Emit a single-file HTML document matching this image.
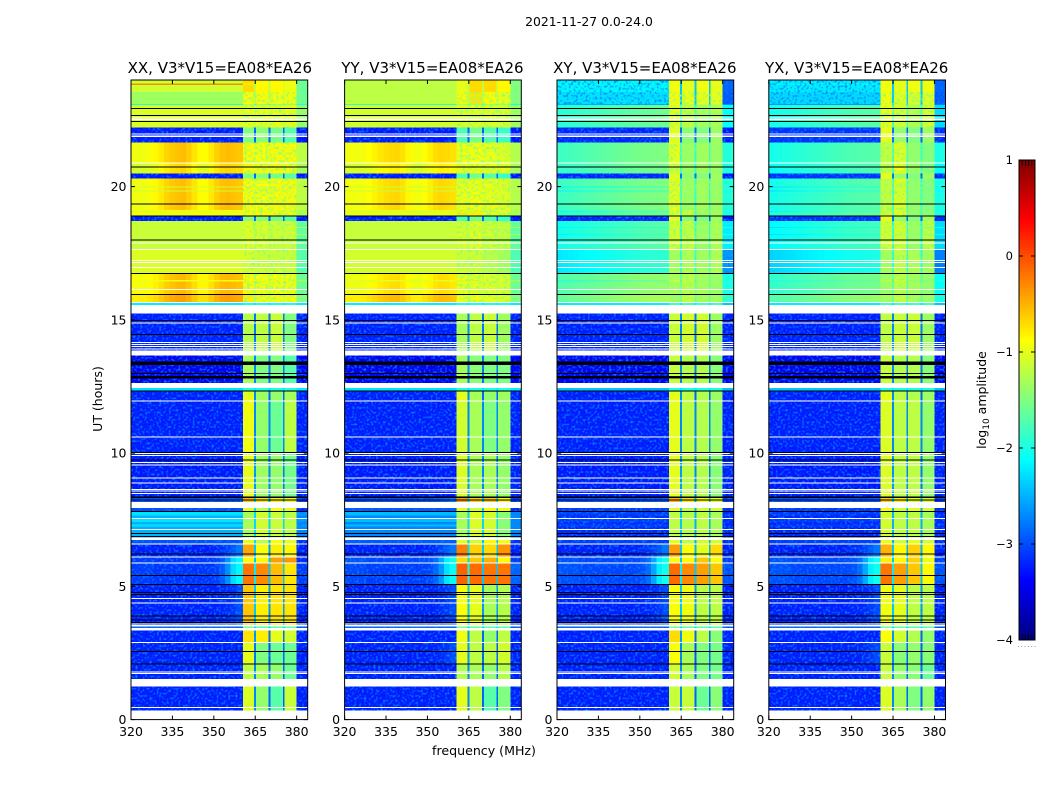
<!DOCTYPE html>
<html lang="en">
<head>
<meta charset="utf-8">
<title>2021-11-27 dynamic spectra</title>
<style>
html,body{margin:0;padding:0;background:#fff;}
#chart{display:block;width:1050px;height:800px;}
text{font-family:"DejaVu Sans","Liberation Sans",sans-serif;fill:#000;}
</style>
</head>
<body>
<svg id="chart" xmlns="http://www.w3.org/2000/svg" width="1050" height="800" viewBox="0 0 1050 800">
<defs>
<filter id="grain" filterUnits="userSpaceOnUse" x="0" y="0" width="1050" height="800" color-interpolation-filters="sRGB">
<feTurbulence type="fractalNoise" baseFrequency="0.42" numOctaves="1" seed="5" result="n"/>
<feColorMatrix in="n" type="matrix" values="0 0 0 0 0  0 0 0 0 0.5  0 0 0 0 1  3.4 0 0 0 -1.62" result="c"/>
<feComposite in="c" in2="SourceGraphic" operator="in" result="s"/>
<feMerge><feMergeNode in="SourceGraphic"/><feMergeNode in="s"/></feMerge>
</filter>
<filter id="mottle" filterUnits="userSpaceOnUse" x="0" y="0" width="1050" height="800" color-interpolation-filters="sRGB">
<feTurbulence type="fractalNoise" baseFrequency="0.38" numOctaves="1" seed="11" result="n"/>
<feColorMatrix in="n" type="matrix" values="0 0 0 0 0.55  0 0 0 0 1  0 0 0 0 0.45  3.4 0 0 0 -1.55" result="c"/>
<feComposite in="c" in2="SourceGraphic" operator="in" result="s"/>
<feMerge><feMergeNode in="SourceGraphic"/><feMergeNode in="s"/></feMerge>
</filter>
</defs>
<g id="root"></g>
</svg>
<script>
// ---- chart data ----
const figureTitle = "2021-11-27 0.0-24.0";
const panelNames = ["XX", "YY", "XY", "YX"];
const baselineLabel = "V3*V15=EA08*EA26";
const xTicks = [320, 335, 350, 365, 380];
const yTicks = [0, 5, 10, 15, 20];
const colorTicks = [1, 0, -1, -2, -3, -4];
const freqEdges = [320,322,324,326,328,330,332,334,336,338,340,342,344,346,348,350,352,354,356,358,360.5,364.6,365.3,369.8,370.5,375,375.6,380,384];
const offColumns = 20;
const lastUT = 24;

// time rows: [UT start hours, row class]; each row ends where the next begins
// class w = flagged/white, k = black
const rows = [
[0,"w"],[.338,"A"],[.443,"w"],[.48,"A"],[1.238,"w"],[1.519,"B0"],[1.706,"w"],[1.744,"B0"],[1.77,"w"],[1.808,"B0"],
[2.07,"k"],[2.108,"B1"],[2.543,"k"],[2.58,"B1"],[2.88,"w"],[2.918,"B2"],[3.338,"w"],[3.431,"C0"],[3.488,"w"],[3.544,"C"],
[3.566,"w"],[3.6,"C"],[3.619,"k"],[3.653,"C"],[3.731,"k"],[3.765,"C"],[3.87,"k"],[3.908,"C"],[4.358,"w"],[4.395,"C"],
[4.53,"w"],[4.568,"C"],[4.669,"k"],[4.706,"C"],[4.755,"k"],[4.793,"C"],[5.055,"k"],[5.093,"D"],[5.393,"k"],[5.43,"D"],
[5.858,"w"],[5.895,"E"],[6.083,"w"],[6.12,"F"],[6.195,"k"],[6.233,"F"],[6.57,"w"],[6.608,"G0"],[6.731,"w"],[6.825,"G"],
[6.844,"k"],[6.881,"G"],[6.968,"k"],[7.005,"G"],[7.118,"w"],[7.155,"G"],[7.25,"g"],[7.33,"G"],[7.42,"g"],[7.53,"w"],[7.568,"G"],[7.66,"g"],[7.781,"k"],[7.819,"G0"],
[7.931,"w"],[8.156,"Ho"],[8.213,"k"],[8.25,"Ho"],[8.318,"k"],[8.363,"H"],[8.456,"w"],[8.494,"H"],[8.558,"w"],[8.595,"H"],
[8.614,"w"],[8.651,"H"],[8.858,"w"],[8.895,"H"],[9.045,"w"],[9.083,"H"],[9.544,"w"],[9.581,"H"],[9.63,"w"],[9.668,"H"],
[9.72,"k"],[9.758,"H"],[9.893,"w"],[9.93,"H"],[9.968,"w"],[10.005,"k"],[10.05,"I"],[10.583,"w"],[10.62,"I"],[11.944,"w"],
[11.981,"J"],[12.308,"k"],[12.345,"J2"],[12.45,"w"],[12.638,"K"],[12.795,"k"],[12.893,"K"],[12.968,"k"],[13.005,"K"],[13.313,"k"],
[13.444,"K"],[13.658,"w"],[13.856,"L"],[13.883,"w"],[13.92,"L"],[13.98,"w"],[14.018,"L"],[14.055,"w"],[14.093,"L"],[14.13,"w"],
[14.168,"L"],[14.438,"k"],[14.475,"L"],[14.858,"w"],[14.895,"L"],[14.955,"k"],[14.993,"L"],[15.244,"w"],[15.563,"M"],[15.638,"w"],
[15.675,"N2"],[15.938,"k"],[15.975,"N"],[16.125,"w"],[16.163,"N"],[16.43,"R2"],[16.5,"N"],[16.725,"k"],[16.763,"O"],[16.95,"w"],[16.988,"O"],[17.13,"w"],
[17.168,"O"],[17.205,"w"],[17.243,"O"],[17.618,"w"],[17.655,"P"],[17.869,"w"],[17.906,"P"],[17.97,"k"],[18.008,"P"],[18.19,"r"],[18.22,"P"],[18.45,"r"],[18.49,"P"],[18.713,"Qb"],
[18.87,"k"],[18.908,"R2"],[19.04,"r"],[19.07,"R2"],[19.125,"R"],[19.32,"k"],[19.358,"R"],[19.819,"r"],[19.856,"R"],[19.969,"r"],[20.006,"R"],[20.295,"Qb"],
[20.483,"R3"],[20.708,"k"],[20.745,"R3"],[20.869,"w"],[20.906,"R"],[21.656,"Qb"],[21.863,"w"],[21.919,"Qb"],[21.956,"w"],[21.994,"Qb"],
[22.219,"S"],[22.425,"k"],[22.463,"S"],[22.493,"w"],[22.53,"S"],[22.556,"w"],[22.594,"S"],[22.658,"k"],[22.695,"S"],[22.905,"k"],
[22.943,"S"],[23.07,"T"],[23.108,"U"],[23.55,"V"],[23.813,"Z"],[23.869,"V"]
];
const mottledKinds = ["N2","N","O","P","R","r","R2","R3","S","U"];
const crossNoisyKinds = ["T","U","V","Z"];

// off-band spectral shapes, log10 amplitude offset per 2 MHz column, 320-360 MHz
const shapeFlat  = [0,0,0,0,0,0,0,0,0,0,0,0,0,0,0,0,0,0,0,0];
const shapeRip   = [-.2,-.2,-.2,-.15,-.1,-.02,.08,.14,.18,.2,.12,0,-.12,-.12,-.02,.1,.18,.2,.18,.15];
const shapeRipS  = [-.12,-.12,-.12,-.1,-.06,0,.06,.1,.13,.14,.08,-.02,-.1,-.12,-.06,.02,.1,.14,.12,.08];
const shapeEdge  = [0,0,0,0,0,0,0,0,0,0,0,0,0,0,0,0,.02,.06,.12,.22];
const shapeHump  = [0,0,0,0,0,0,0,0,0,0,0,0,0,0,.02,.05,.1,.18,.3,.45];
const shapeHump2 = [.05,.05,.05,.05,0,0,0,0,0,0,0,0,0,0,.02,.06,.2,.5,.85,1.0];
const shapeSlope = [-.18,-.16,-.14,-.12,-.1,-.08,-.06,-.04,-.02,0,.02,.04,.06,.08,.1,.11,.12,.13,.14,.15];
const shapeNames = {f:shapeFlat, r:shapeRip, s:shapeRipS, c:shapeEdge, h:shapeHump, g:shapeHump2, l:shapeSlope};

// class: [off-band level, shape, band1, gap1, band2, gap2, band3, gap3, band4, upper edge]
const specXX = {
A:[-3.25,"f",-1.05,-2.7,-1.4,-2.9,-1.7,-2.9,-1.15,-3.25],
B0:[-3.25,"f",-1.2,-2.7,-1.3,-2.9,-1.4,-2.9,-1.6,-3.25],
B1:[-3.25,"f",-1,-2.8,-1.5,-3,-1.6,-2.9,-1.6,-3.25],
B2:[-3.25,"f",-.75,-2.6,-.8,-2.9,-1,-2.9,-1.1,-3.25],
C0:[-2.9,"f",-1.6,-2.3,-1.7,-2.3,-1.7,-2.3,-1.7,-3],
C:[-3.25,"c",-.6,-2.4,-.8,-2.6,-.75,-2.6,-.75,-3.25],
D:[-3.15,"g",-.2,-2.2,-.3,-2.4,-.55,-2.4,-.75,-3.1],
E:[-3.15,"g",-.85,-2.4,-.85,-2.4,-.4,-2.4,-.35,-3.2],
F:[-3.25,"h",-.45,-2.4,-.9,-2.6,-.8,-2.6,-.85,-3.25],
G:[-2.5,"f",-1.3,-2.3,-1.1,-2.3,-1.15,-2.3,-1.2,-2.7],
g:[-2.25,"f",-1.3,-2.3,-1.1,-2.3,-1.15,-2.3,-1.2,-2.6],
G0:[-3,"f",-1,-2.3,-1.2,-2.4,-.9,-2.4,-1,-3.2],
Ho:[-3,"f",-.55,-2.3,-.75,-2.5,-.8,-2.4,-.85,-3.1],
H:[-3.28,"f",-1,-2.6,-1.35,-2.7,-1.4,-2.8,-1.55,-3.25],
I:[-3.25,"f",-.95,-2.7,-1.4,-2.7,-1.6,-2.7,-1.2,-3.25],
J:[-3.25,"f",-1,-2.7,-1.35,-2.9,-1.4,-2.9,-1.3,-3.25],
J2:[-2.25,"f",-2,-2.2,-2,-2.2,-2,-2.2,-2,-2.2],
K:[-3.45,"f",-1.3,-2.7,-1.5,-2.8,-1.5,-2.8,-1.7,-3.4],
L:[-3.25,"f",-1.25,-2.8,-1.2,-2.8,-1.15,-2.8,-1.5,-3.25],
M:[-2.2,"f",-2,-2.2,-2,-2.2,-2,-2.2,-2,-2.2],
N2:[-.6,"r",-.8,-1.2,-.85,-1.1,-.85,-1.1,-.85,-1.5],
N:[-.72,"r",-.85,-1.2,-.9,-1.15,-.9,-1.15,-.95,-1.6],
O:[-1.05,"f",-1.05,-1.1,-1.1,-1.1,-1.1,-1.2,-1.1,-1.7],
P:[-1.15,"f",-1,-1.2,-1.05,-1.2,-1.1,-1.2,-1.1,-1.65],
Qb:[-3.27,"f",-1.5,-2.9,-1.45,-2.9,-1.55,-2.9,-1.7,-3.3],
R:[-.75,"r",-.85,-1,-.9,-1,-.85,-1,-.85,-1.2],
r:[-1.1,"f",-1,-1.1,-1,-1.1,-1,-1.1,-1,-1.2],
R2:[-.95,"f",-.85,-1,-.85,-1,-.85,-1,-.9,-1.3],
R3:[-.88,"r",-.85,-1,-.85,-1,-.85,-1,-.9,-1.3],
S:[-1.05,"f",-.95,-1.05,-.95,-1.05,-.95,-1.05,-.95,-1.4],
T:[-2,"f",-1.3,-1.8,-1.4,-1.8,-1.4,-1.8,-1.4,-2],
U:[-1.35,"f",-.9,-1.2,-.85,-1.2,-.9,-1.1,-.9,-1.6],
V:[-1.12,"f",-.7,-1.2,-.85,-1.2,-.85,-1.1,-.95,-1.6],
Z:[-.3,"f",-.8,-1.2,-.85,-1.2,-.85,-1.1,-.95,-1.6]
};
const specYY = {
A:[-3.25,"f",-1,-2.7,-1.2,-2.9,-1.7,-2.9,-1.5,-3.25],
B0:[-3.25,"f",-1.25,-2.7,-1.3,-2.9,-1.4,-2.9,-1.25,-3.25],
B1:[-3.25,"c",-1,-2.6,-1.2,-2.9,-1.2,-2.9,-1.1,-3.25],
B2:[-3.25,"f",-.95,-2.6,-1.2,-2.9,-1.4,-2.9,-1.2,-3.25],
C0:[-2.9,"f",-1.6,-2.3,-1.7,-2.3,-1.7,-2.3,-1.7,-3],
C:[-3.25,"c",-.9,-2.4,-1,-2.6,-1.3,-2.6,-1.25,-3.25],
D:[-3.1,"g",-.1,-2.1,-.15,-2.4,-.2,-2.4,-.2,-2.9],
E:[-3.05,"g",-.7,-2.3,-.6,-2.4,-.5,-2.4,-.85,-3.1],
F:[-3.25,"h",-.25,-2.3,-.65,-2.4,-.7,-2.4,-.35,-3.25],
G:[-2.7,"f",-1.3,-2.3,-1.05,-2.3,-1.1,-2.3,-1.45,-2.7],
g:[-2.45,"f",-1.3,-2.3,-1.05,-2.3,-1.1,-2.3,-1.45,-2.7],
G0:[-2.95,"f",-1,-2.3,-1.1,-2.4,-.85,-2.4,-.95,-3.2],
Ho:[-3,"c",-.4,-2.3,-.65,-2.4,-.6,-2.4,-.85,-3.1],
H:[-3.28,"f",-1.05,-2.6,-1.3,-2.7,-1.3,-2.8,-1.4,-3.25],
I:[-3.25,"f",-1.1,-2.7,-1.3,-2.7,-1.5,-2.7,-1.4,-3.25],
J:[-3.25,"f",-1,-2.7,-1.3,-2.9,-1.4,-2.9,-1.35,-3.25],
J2:[-2.25,"f",-2,-2.2,-2,-2.2,-2,-2.2,-2,-2.2],
K:[-3.45,"f",-1.3,-2.7,-1.45,-2.8,-1.5,-2.8,-1.5,-3.4],
L:[-3.25,"f",-1.3,-2.7,-1.2,-2.8,-1.15,-2.8,-1.35,-3.25],
M:[-2.2,"f",-2,-2.2,-2,-2.2,-2,-2.2,-2,-2.2],
N2:[-.68,"s",-.9,-1.2,-.9,-1.1,-.95,-1.1,-1,-1.5],
N:[-.85,"s",-.95,-1.2,-1,-1.15,-1,-1.15,-1.05,-1.6],
O:[-1.1,"f",-1.1,-1.15,-1.1,-1.15,-1.2,-1.2,-1.3,-1.75],
P:[-1.15,"f",-1.05,-1.2,-1,-1.2,-1.1,-1.2,-1.15,-1.65],
Qb:[-3.27,"f",-1.75,-2.9,-1.55,-2.9,-1.7,-2.9,-1.85,-3.3],
R:[-.82,"s",-.95,-1,-.9,-1,-.95,-1,-1,-1.25],
r:[-1.15,"f",-1,-1.1,-1,-1.1,-1,-1.1,-1.05,-1.25],
R2:[-1,"f",-.8,-1,-.8,-1,-1,-1,-1,-1.3],
R3:[-.95,"s",-.95,-1,-.95,-1,-.95,-1,-1,-1.3],
S:[-1.1,"f",-1,-1.1,-1,-1.1,-1,-1.1,-1,-1.35],
T:[-1.95,"f",-1.3,-1.8,-1.4,-1.8,-1.4,-1.8,-1.4,-2],
U:[-1.2,"f",-.85,-1.2,-.75,-1.2,-.85,-1.1,-.95,-1.5],
V:[-1.2,"f",-1,-1.2,-.7,-1.2,-.7,-1.1,-.85,-1.5],
Z:[-1.2,"f",-1,-1.2,-.7,-1.2,-.7,-1.1,-.85,-1.5]
};
const specXY = {
A:[-3.25,"f",-1.15,-2.7,-1.15,-2.9,-1.6,-2.9,-1.45,-3.25],
B0:[-3.25,"f",-1.1,-2.7,-1.3,-2.9,-1.5,-2.9,-1.55,-3.25],
B1:[-3.25,"f",-.9,-2.7,-1.3,-3,-1.5,-2.9,-1.55,-3.25],
B2:[-3.25,"f",-.7,-2.6,-.95,-2.9,-1.2,-2.9,-1.45,-3.25],
C0:[-2.9,"f",-1.6,-2.3,-1.7,-2.3,-1.7,-2.3,-1.7,-3],
C:[-3.25,"c",-.9,-2.4,-.95,-2.6,-1.2,-2.6,-1.2,-3.25],
D:[-3.05,"g",-.15,-2.2,-.3,-2.4,-.4,-2.4,-.6,-3],
E:[-3.05,"g",-.9,-2.4,-.85,-2.4,-.6,-2.4,-.9,-3.1],
F:[-3.25,"h",-.4,-2.4,-.9,-2.5,-1,-2.5,-.7,-3.25],
G:[-3.18,"f",-1.2,-2.4,-1.25,-2.5,-1.2,-2.5,-1.3,-3.2],
g:[-3.08,"f",-1.2,-2.4,-1.25,-2.5,-1.2,-2.5,-1.3,-3.2],
G0:[-3.1,"f",-1,-2.4,-1.2,-2.5,-1.1,-2.5,-1.1,-3.2],
Ho:[-3,"f",-.5,-2.3,-.75,-2.5,-.85,-2.4,-1,-3.1],
H:[-3.28,"f",-1,-2.6,-1.2,-2.7,-1.25,-2.8,-1.45,-3.25],
I:[-3.25,"f",-1,-2.7,-1.2,-2.7,-1.25,-2.7,-1.4,-3.25],
J:[-3.25,"f",-1,-2.7,-1.2,-2.9,-1.25,-2.9,-1.35,-3.25],
J2:[-2.4,"f",-2,-2.2,-2,-2.2,-2,-2.2,-2,-2.4],
K:[-3.45,"f",-1.15,-2.7,-1.25,-2.8,-1.25,-2.8,-1.45,-3.4],
L:[-3.25,"f",-1.15,-2.7,-1.1,-2.8,-1.1,-2.8,-1.35,-3.25],
M:[-2.2,"f",-1.8,-2.2,-1.8,-2.2,-1.8,-2.2,-1.8,-2.4],
N2:[-1.45,"l",-1.35,-1.6,-1.15,-1.6,-1.3,-1.6,-1.3,-1.9],
N:[-1.55,"l",-1.3,-1.6,-1.2,-1.6,-1.3,-1.6,-1.35,-2],
O:[-2.05,"l",-1.3,-1.9,-1.25,-1.9,-1.3,-1.9,-1.25,-2.6],
P:[-1.85,"l",-1.05,-1.9,-1.15,-1.9,-1.35,-1.9,-1.25,-2.2],
Qb:[-3.22,"f",-1.05,-2.8,-1.45,-2.9,-1.5,-2.9,-1.35,-3.3],
R:[-1.65,"l",-.95,-1.8,-1.35,-1.9,-1.3,-1.9,-1.35,-1.95],
r:[-2,"l",-1.1,-1.8,-1.3,-1.9,-1.3,-1.9,-1.35,-2],
R2:[-1.75,"l",-1.05,-1.8,-1.1,-1.8,-1.35,-1.8,-1.3,-2],
R3:[-1.7,"l",-1.1,-1.8,-1.35,-1.9,-1.3,-1.9,-1.35,-2],
S:[-1.75,"l",-1,-1.8,-1.15,-1.8,-1.3,-1.8,-1.25,-2.1],
T:[-2.5,"f",-1,-2.2,-1.2,-2.3,-1.2,-2.3,-1.2,-2.7],
U:[-2.25,"f",-.85,-2.4,-.95,-2.4,-.95,-2.4,-.95,-2.95],
V:[-2.15,"f",-.95,-2.4,-1,-2.4,-.95,-2.4,-1,-2.9],
Z:[-2.1,"f",-.95,-2.4,-1,-2.4,-.95,-2.4,-1,-2.9]
};
const specYX = {
A:[-3.25,"f",-1.05,-2.7,-1.3,-2.9,-1.5,-2.9,-1.4,-3.25],
B0:[-3.25,"f",-1.15,-2.7,-1.4,-2.9,-1.45,-2.9,-1.6,-3.25],
B1:[-3.25,"c",-1.15,-2.7,-1.45,-2.9,-1.4,-2.9,-1.45,-3.25],
B2:[-3.25,"f",-.9,-2.6,-1.1,-2.9,-1.25,-2.9,-1.4,-3.25],
C0:[-2.9,"f",-1.6,-2.3,-1.7,-2.3,-1.7,-2.3,-1.7,-3],
C:[-3.25,"c",-.95,-2.4,-1,-2.6,-1.2,-2.6,-1.2,-3.25],
D:[-3.05,"g",-.2,-2.2,-.4,-2.4,-.6,-2.4,-.85,-3],
E:[-3.05,"g",-.8,-2.4,-.85,-2.4,-.65,-2.4,-.95,-3.1],
F:[-3.25,"h",-.5,-2.4,-.85,-2.5,-.65,-2.5,-.85,-3.25],
G:[-3.22,"f",-1.1,-2.5,-1.2,-2.5,-1.2,-2.5,-1.3,-3.2],
g:[-3.12,"f",-1.1,-2.5,-1.2,-2.5,-1.2,-2.5,-1.3,-3.2],
G0:[-3.1,"f",-.95,-2.5,-1.1,-2.5,-1,-2.5,-1.1,-3.2],
Ho:[-3,"f",-.65,-2.3,-.8,-2.5,-1,-2.4,-1.05,-3.1],
H:[-3.28,"f",-1.05,-2.6,-1.2,-2.7,-1.2,-2.8,-1.4,-3.25],
I:[-3.25,"f",-1.05,-2.7,-1.2,-2.7,-1.2,-2.7,-1.4,-3.25],
J:[-3.25,"f",-1,-2.7,-1.2,-2.9,-1.25,-2.9,-1.35,-3.25],
J2:[-2.4,"f",-2,-2.2,-2,-2.2,-2,-2.2,-2,-2.4],
K:[-3.45,"f",-1.15,-2.7,-1.25,-2.8,-1.25,-2.8,-1.45,-3.4],
L:[-3.25,"f",-1.2,-2.7,-1.15,-2.8,-1.15,-2.8,-1.35,-3.25],
M:[-2.2,"f",-1.8,-2.2,-1.8,-2.2,-1.8,-2.2,-1.8,-2.4],
N2:[-1.55,"l",-1.3,-1.7,-1.15,-1.7,-1.3,-1.7,-1.35,-2],
N:[-1.7,"l",-1.35,-1.7,-1.2,-1.7,-1.3,-1.7,-1.4,-2.1],
O:[-2.15,"l",-1.3,-2,-1.15,-2,-1.25,-2,-1.3,-2.75],
P:[-1.95,"l",-1.05,-2,-1.05,-2,-1.35,-2,-1.15,-2.3],
Qb:[-3.15,"f",-1,-2.8,-1.4,-2.9,-1.5,-2.9,-1.35,-3.2],
R:[-1.85,"l",-1.15,-1.8,-1,-1.9,-1.4,-1.9,-1.5,-2],
r:[-2.1,"l",-1.15,-1.8,-1.2,-1.9,-1.4,-1.9,-1.5,-2.1],
R2:[-1.8,"l",-1.1,-1.8,-.95,-1.8,-1.4,-1.8,-1.45,-2],
R3:[-1.9,"l",-1.15,-1.8,-.9,-1.9,-1.35,-1.9,-1.5,-2.1],
S:[-1.85,"l",-.95,-1.8,-1.05,-1.8,-1.25,-1.8,-1.05,-2.3],
T:[-2.6,"f",-1,-2.2,-1.1,-2.3,-1.2,-2.3,-1.1,-2.8],
U:[-2.3,"f",-.9,-2.4,-1,-2.4,-1.05,-2.4,-1,-2.95],
V:[-2.2,"f",-.95,-2.4,-1,-2.4,-.95,-2.4,-.95,-2.9],
Z:[-2.15,"f",-.95,-2.4,-1,-2.4,-.95,-2.4,-.95,-2.9]
};
const panelSpectra = [specXX, specYY, specXY, specYX];

// ---- layout ----
const axisLefts = [131, 344.6, 557, 768.8];
const axisWidth = 176.7;
const axisTop = 80, axisBottom = 719.6;
const cbLeft = 1019, cbRight = 1035, cbTop = 160, cbBottom = 640;
const vMin = -4, vMax = 1;
const tMin = 0, tMax = 24, fMin = 320, fMax = 384;

const NS = "http://www.w3.org/2000/svg";
const root = document.getElementById("root");
function make(tag, attrs, parent) {
  const el = document.createElementNS(NS, tag);
  for (const k in attrs) el.setAttribute(k, attrs[k]);
  (parent || root).appendChild(el);
  return el;
}
function yScale(ut) { return axisBottom - (ut - tMin) / (tMax - tMin) * (axisBottom - axisTop); }
function xScale(left, f) { return left + (f - fMin) / (fMax - fMin) * axisWidth; }
function cScale(v) { return cbBottom - (v - vMin) / (vMax - vMin) * (cbBottom - cbTop); }
function jet(v) {
  const t = Math.max(0, Math.min(1, (v - vMin) / (vMax - vMin)));
  const ramp = c => Math.max(0, Math.min(1, 1.5 - Math.abs(4 * t - c)));
  return "rgb(" + Math.round(255 * ramp(3)) + "," + Math.round(255 * ramp(2)) + "," + Math.round(255 * ramp(1)) + ")";
}
function cellValue(spec, col) {
  if (col < offColumns) return spec[0] + shapeNames[spec[1]][col];
  return spec[col - offColumns + 2];
}

const titleEl = make("text", {x: 589, y: 26, "text-anchor": "middle", "font-size": 12.4});
titleEl.textContent = figureTitle;



panelNames.forEach(function (name, p) {
  const left = axisLefts[p];
  const spectra = panelSpectra[p];
  const panel = make("g", {});
  
  

  const noisy = make("g", {filter: "url(#grain)", "shape-rendering": "crispEdges"}, panel);
  
  
  const mottled = make("g", {filter: "url(#mottle)", "shape-rendering": "crispEdges"}, panel);
  
  
  const smooth = make("g", {"shape-rendering": "crispEdges"}, panel);
  
  
  const masked = make("g", {"shape-rendering": "crispEdges"}, panel);
  
  

  rows.forEach(function (row, r) {
    const kind = row[1];
    if (kind === "w") return;
    const endUT = r + 1 < rows.length ? rows[r + 1][0] : lastUT;
    const yTop = yScale(endUT);
    const yBot = yScale(row[0]);
    if (kind === "k") {
      const line = make("rect", {x: left, y: yTop, width: axisWidth, height: Math.max(1, yBot - yTop), fill: "#000"}, masked);
      
      
      return;
    }
    const spec = spectra[kind];
    for (let c = 0; c < freqEdges.length - 1; c++) {
      const v = cellValue(spec, c);
      const x0 = xScale(left, freqEdges[c]);
      const x1 = xScale(left, freqEdges[c + 1]);
      const isOff = c < offColumns || c === freqEdges.length - 2;
      let group = smooth;
      if (v < -2.55 || (p >= 2 && isOff && crossNoisyKinds.indexOf(kind) >= 0)) group = noisy;
      else if (!isOff && mottledKinds.indexOf(kind) >= 0) group = mottled;
      const cell = make("rect", {x: x0, y: yTop, width: x1 - x0, height: yBot - yTop, fill: jet(v)}, group);
      
      
    }
  });

  const frame = make("rect", {x: left, y: axisTop, width: axisWidth, height: axisBottom - axisTop, fill: "none", stroke: "#000", "stroke-width": 1}, panel);
  
  

  xTicks.forEach(function (f) {
    const x = xScale(left, f);
    const tickB = make("line", {x1: x, x2: x, y1: axisBottom, y2: axisBottom - 4, stroke: "#000"}, panel);
    
    
    const tickT = make("line", {x1: x, x2: x, y1: axisTop, y2: axisTop + 4, stroke: "#000"}, panel);
    
    
    const lab = make("text", {x: x, y: 736, "text-anchor": "middle", "font-size": 12.5}, panel);
    lab.textContent = f;
    
    
  });
  yTicks.forEach(function (u) {
    const y = yScale(u);
    const tickL = make("line", {x1: left, x2: left + 4, y1: y, y2: y, stroke: "#000"}, panel);
    
    
    const tickR = make("line", {x1: left + axisWidth, x2: left + axisWidth - 4, y1: y, y2: y, stroke: "#000"}, panel);
    
    
    const lab = make("text", {x: left - 4.5, y: y + 4.5, "text-anchor": "end", "font-size": 12.5}, panel);
    lab.textContent = u;
    
    
  });

  const title = make("text", {x: left + axisWidth / 2 + (p === 0 ? 0.5 : -0.5), y: 73, "text-anchor": "middle", "font-size": 15}, panel);
  title.textContent = name + ", " + baselineLabel;
  
  
});

const xLabel = make("text", {x: 484, y: 755, "text-anchor": "middle", "font-size": 12.6});
xLabel.textContent = "frequency (MHz)";



const yLabel = make("text", {"text-anchor": "middle", "font-size": 12.5, transform: "translate(102,399) rotate(-90)"});
yLabel.textContent = "UT (hours)";



// ---- colorbar ----
const bar = make("g", {"shape-rendering": "crispEdges"});


for (let py = cbTop; py < cbBottom; py += 2) {
  const v = vMax - (py + 1 - cbTop) / (cbBottom - cbTop) * (vMax - vMin);
  const seg = make("rect", {x: cbLeft, y: py, width: cbRight - cbLeft, height: 2, fill: jet(v)}, bar);
  
  
}
const cbFrame = make("rect", {x: cbLeft, y: cbTop, width: cbRight - cbLeft, height: cbBottom - cbTop, fill: "none", stroke: "#000"});


colorTicks.forEach(function (v) {
  const y = cScale(v);
  const t1 = make("line", {x1: cbLeft, x2: cbLeft + 4, y1: y, y2: y, stroke: "#000"});
  
  
  const t2 = make("line", {x1: cbRight, x2: cbRight - 4, y1: y, y2: y, stroke: "#000"});
  
  
  const lab = make("text", {x: 1013, y: y + 4, "text-anchor": "end", "font-size": 11.5});
  lab.textContent = v < 0 ? "\u2212" + Math.abs(v) : String(v);
  
  
});
for (let i = 1; i <= 4; i++) {
  const x = cbLeft + i * 3.2;
  const top = make("line", {x1: x, x2: x, y1: cbTop, y2: cbTop + 6, stroke: "#000", "stroke-width": .8});
  
  
  const bot = make("line", {x1: x, x2: x, y1: cbBottom, y2: cbBottom - 6, stroke: "#000", "stroke-width": .8});
  
  
}
for (let i = 0; i < 6; i++) {
  const dot = make("rect", {x: cbLeft - 1 + i * 3.3, y: 646, width: 1, height: 1, fill: "#999"});
  
  
}
const cbLabel = make("text", {"text-anchor": "middle", "font-size": 12.5, transform: "translate(986,400) rotate(-90)"});


const t1 = make("tspan", {}, cbLabel); t1.textContent = "log";
const t2 = make("tspan", {dy: 3, "font-size": 9}, cbLabel); t2.textContent = "10";
const t3 = make("tspan", {dy: -3}, cbLabel); t3.textContent = " amplitude";
</script>
</body>
</html>
